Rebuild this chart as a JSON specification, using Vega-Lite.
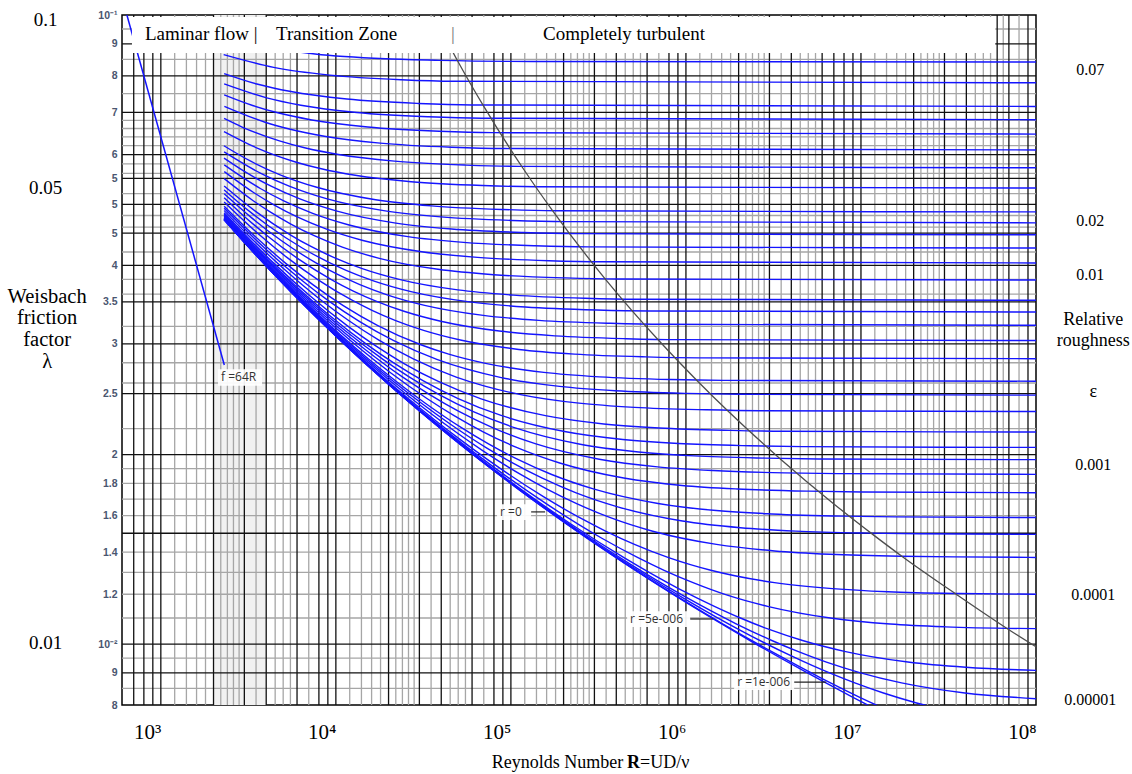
{
  "$schema": "https://vega.github.io/schema/vega-lite/v6.json",
  "width": 914,
  "height": 690,
  "autosize": "none",
  "padding": {"left": 122, "top": 15, "right": 96, "bottom": 69},
  "background": "white",
  "config": {"view": {"stroke": "black", "strokeWidth": 1.5}},
  "datasets": {
    "vgrid": [
      {"R": 700, "k": "b"}, {"R": 800, "k": "b"}, {"R": 900, "k": "b"},
      {"R": 1000, "k": "b"}, {"R": 1200, "k": "g"}, {"R": 1400, "k": "g"}, {"R": 1600, "k": "g"}, {"R": 1800, "k": "g"}, {"R": 2000, "k": "b"}, {"R": 2200, "k": "g"}, {"R": 2400, "k": "g"}, {"R": 2600, "k": "g"}, {"R": 2800, "k": "g"}, {"R": 3000, "k": "b"}, {"R": 3500, "k": "g"}, {"R": 4000, "k": "b"}, {"R": 4500, "k": "g"}, {"R": 5000, "k": "g"}, {"R": 5500, "k": "g"}, {"R": 6000, "k": "b"}, {"R": 7000, "k": "g"}, {"R": 8000, "k": "b"}, {"R": 9000, "k": "b"},
      {"R": 10000, "k": "b"}, {"R": 12000, "k": "g"}, {"R": 14000, "k": "g"}, {"R": 16000, "k": "g"}, {"R": 18000, "k": "g"}, {"R": 20000, "k": "b"}, {"R": 22000, "k": "g"}, {"R": 24000, "k": "g"}, {"R": 26000, "k": "g"}, {"R": 28000, "k": "g"}, {"R": 30000, "k": "b"}, {"R": 35000, "k": "g"}, {"R": 40000, "k": "b"}, {"R": 45000, "k": "g"}, {"R": 50000, "k": "g"}, {"R": 55000, "k": "g"}, {"R": 60000, "k": "b"}, {"R": 70000, "k": "g"}, {"R": 80000, "k": "b"}, {"R": 90000, "k": "b"},
      {"R": 100000, "k": "b"}, {"R": 120000, "k": "g"}, {"R": 140000, "k": "g"}, {"R": 160000, "k": "g"}, {"R": 180000, "k": "g"}, {"R": 200000, "k": "b"}, {"R": 220000, "k": "g"}, {"R": 240000, "k": "g"}, {"R": 260000, "k": "g"}, {"R": 280000, "k": "g"}, {"R": 300000, "k": "b"}, {"R": 350000, "k": "g"}, {"R": 400000, "k": "b"}, {"R": 450000, "k": "g"}, {"R": 500000, "k": "g"}, {"R": 550000, "k": "g"}, {"R": 600000, "k": "b"}, {"R": 700000, "k": "g"}, {"R": 800000, "k": "b"}, {"R": 900000, "k": "b"},
      {"R": 1000000, "k": "b"}, {"R": 1200000, "k": "g"}, {"R": 1400000, "k": "g"}, {"R": 1600000, "k": "g"}, {"R": 1800000, "k": "g"}, {"R": 2000000, "k": "b"}, {"R": 2200000, "k": "g"}, {"R": 2400000, "k": "g"}, {"R": 2600000, "k": "g"}, {"R": 2800000, "k": "g"}, {"R": 3000000, "k": "b"}, {"R": 3500000, "k": "g"}, {"R": 4000000, "k": "b"}, {"R": 4500000, "k": "g"}, {"R": 5000000, "k": "g"}, {"R": 5500000, "k": "g"}, {"R": 6000000, "k": "b"}, {"R": 7000000, "k": "b"}, {"R": 8000000, "k": "b"}, {"R": 9000000, "k": "b"},
      {"R": 10000000, "k": "b"}, {"R": 12000000, "k": "g"}, {"R": 14000000, "k": "g"}, {"R": 16000000, "k": "g"}, {"R": 18000000, "k": "g"}, {"R": 20000000, "k": "b"}, {"R": 22000000, "k": "g"}, {"R": 24000000, "k": "g"}, {"R": 26000000, "k": "g"}, {"R": 28000000, "k": "g"}, {"R": 30000000, "k": "b"}, {"R": 35000000, "k": "g"}, {"R": 40000000, "k": "b"}, {"R": 45000000, "k": "g"}, {"R": 50000000, "k": "g"}, {"R": 55000000, "k": "g"}, {"R": 60000000, "k": "b"}, {"R": 65000000, "k": "g"}, {"R": 70000000, "k": "b"}, {"R": 80000000, "k": "g"}, {"R": 90000000, "k": "b"}
    ],
    "hgrid": [
      {"f": 0.095, "k": "g"}, {"f": 0.09, "k": "b"}, {"f": 0.085, "k": "g"}, {"f": 0.08, "k": "b"}, {"f": 0.075, "k": "g"}, {"f": 0.07, "k": "b"}, {"f": 0.068, "k": "g"}, {"f": 0.066, "k": "g"}, {"f": 0.064, "k": "g"}, {"f": 0.062, "k": "g"}, {"f": 0.06, "k": "b"}, {"f": 0.058, "k": "g"}, {"f": 0.056, "k": "g"}, {"f": 0.055, "k": "b"}, {"f": 0.052, "k": "g"}, {"f": 0.05, "k": "b"}, {"f": 0.048, "k": "g"}, {"f": 0.046, "k": "g"}, {"f": 0.045, "k": "b"}, {"f": 0.042, "k": "g"}, {"f": 0.04, "k": "b"}, {"f": 0.038, "k": "g"}, {"f": 0.036, "k": "g"}, {"f": 0.035, "k": "b"}, {"f": 0.032, "k": "g"}, {"f": 0.03, "k": "b"}, {"f": 0.028, "k": "g"}, {"f": 0.026, "k": "g"}, {"f": 0.025, "k": "b"}, {"f": 0.022, "k": "g"}, {"f": 0.02, "k": "b"}, {"f": 0.019, "k": "g"}, {"f": 0.018, "k": "g"}, {"f": 0.017, "k": "g"}, {"f": 0.016, "k": "g"}, {"f": 0.015, "k": "b"}, {"f": 0.014, "k": "g"}, {"f": 0.013, "k": "g"}, {"f": 0.012, "k": "g"}, {"f": 0.011, "k": "g"}, {"f": 0.01, "k": "b"}, {"f": 0.0095, "k": "g"}, {"f": 0.009, "k": "b"}, {"f": 0.0085, "k": "g"}
    ],
    "curves": [
      {"e": "0.07", "R": 2320, "f": 0.09205}, {"e": "0.07", "R": 3638, "f": 0.08932}, {"e": "0.07", "R": 7604, "f": 0.08671}, {"e": "0.07", "R": 19516, "f": 0.0852}, {"e": "0.07", "R": 39368, "f": 0.0847}, {"e": "0.07", "R": 132050, "f": 0.08436}, {"e": "0.07", "R": 100000000, "f": 0.0842},
      {"e": "0.06", "R": 2285, "f": 0.0865}, {"e": "0.06", "R": 4414, "f": 0.08257}, {"e": "0.06", "R": 9222, "f": 0.08025}, {"e": "0.06", "R": 23660, "f": 0.0789}, {"e": "0.06", "R": 47720, "f": 0.07846}, {"e": "0.06", "R": 100000000, "f": 0.07802},
      {"e": "0.05", "R": 2300, "f": 0.0807}, {"e": "0.05", "R": 3536, "f": 0.07768}, {"e": "0.05", "R": 5538, "f": 0.07556}, {"e": "0.05", "R": 11561, "f": 0.07352}, {"e": "0.05", "R": 29650, "f": 0.07234}, {"e": "0.05", "R": 59800, "f": 0.07195}, {"e": "0.05", "R": 100000000, "f": 0.07155},
      {"e": "0.045", "R": 2300, "f": 0.0777}, {"e": "0.045", "R": 4029, "f": 0.07384}, {"e": "0.045", "R": 6309, "f": 0.07188}, {"e": "0.045", "R": 13167, "f": 0.06999}, {"e": "0.045", "R": 33760, "f": 0.06889}, {"e": "0.045", "R": 68080, "f": 0.06853}, {"e": "0.045", "R": 100000000, "f": 0.06817},
      {"e": "0.04", "R": 2300, "f": 0.07465}, {"e": "0.04", "R": 3346, "f": 0.0718}, {"e": "0.04", "R": 4658, "f": 0.06991}, {"e": "0.04", "R": 7291, "f": 0.0681}, {"e": "0.04", "R": 15212, "f": 0.06636}, {"e": "0.04", "R": 39000, "f": 0.06534}, {"e": "0.04", "R": 78640, "f": 0.06501}, {"e": "0.04", "R": 100000000, "f": 0.06467},
      {"e": "0.035", "R": 2306, "f": 0.07158}, {"e": "0.035", "R": 3943, "f": 0.06753}, {"e": "0.035", "R": 5487, "f": 0.06582}, {"e": "0.035", "R": 8585, "f": 0.06416}, {"e": "0.035", "R": 17905, "f": 0.06256}, {"e": "0.035", "R": 45890, "f": 0.06163}, {"e": "0.035", "R": 92530, "f": 0.06133}, {"e": "0.035", "R": 100000000, "f": 0.06102},
      {"e": "0.03", "R": 2299, "f": 0.06847}, {"e": "0.03", "R": 2913, "f": 0.06636}, {"e": "0.03", "R": 4761, "f": 0.06307}, {"e": "0.03", "R": 6622, "f": 0.06151}, {"e": "0.03", "R": 10357, "f": 0.06001}, {"e": "0.03", "R": 21590, "f": 0.05857}, {"e": "0.03", "R": 55320, "f": 0.05773}, {"e": "0.03", "R": 111530, "f": 0.05745}, {"e": "0.03", "R": 100000000, "f": 0.05717},
      {"e": "0.025", "R": 2295, "f": 0.06527}, {"e": "0.025", "R": 3638, "f": 0.06125}, {"e": "0.025", "R": 5940, "f": 0.05833}, {"e": "0.025", "R": 8258, "f": 0.05695}, {"e": "0.025", "R": 12910, "f": 0.05561}, {"e": "0.025", "R": 26900, "f": 0.05432}, {"e": "0.025", "R": 68910, "f": 0.05357}, {"e": "0.025", "R": 138930, "f": 0.05333}, {"e": "0.025", "R": 100000000, "f": 0.05308},
      {"e": "0.02", "R": 2292, "f": 0.06197}, {"e": "0.02", "R": 3282, "f": 0.0585}, {"e": "0.02", "R": 4766, "f": 0.05577}, {"e": "0.02", "R": 7773, "f": 0.05323}, {"e": "0.02", "R": 16875, "f": 0.05086}, {"e": "0.02", "R": 35140, "f": 0.04973}, {"e": "0.02", "R": 90000, "f": 0.04907}, {"e": "0.02", "R": 181400, "f": 0.04885}, {"e": "0.02", "R": 100000000, "f": 0.04864},
      {"e": "0.018", "R": 2299, "f": 0.06058}, {"e": "0.018", "R": 3728, "f": 0.056}, {"e": "0.018", "R": 5410, "f": 0.05344}, {"e": "0.018", "R": 8819, "f": 0.05105}, {"e": "0.018", "R": 19137, "f": 0.04882}, {"e": "0.018", "R": 39845, "f": 0.04776}, {"e": "0.018", "R": 102040, "f": 0.04714}, {"e": "0.018", "R": 205650, "f": 0.04694}, {"e": "0.018", "R": 100000000, "f": 0.04673},
      {"e": "0.016", "R": 2296, "f": 0.05922}, {"e": "0.016", "R": 3153, "f": 0.05594}, {"e": "0.016", "R": 4295, "f": 0.05338}, {"e": "0.016", "R": 6230, "f": 0.051}, {"e": "0.016", "R": 10151, "f": 0.04877}, {"e": "0.016", "R": 22016, "f": 0.04669}, {"e": "0.016", "R": 45830, "f": 0.04569}, {"e": "0.016", "R": 117350, "f": 0.04511}, {"e": "0.016", "R": 236500, "f": 0.04492}, {"e": "0.016", "R": 100000000, "f": 0.04473},
      {"e": "0.014", "R": 2302, "f": 0.05779}, {"e": "0.014", "R": 3703, "f": 0.05299}, {"e": "0.014", "R": 5040, "f": 0.05063}, {"e": "0.014", "R": 7307, "f": 0.04843}, {"e": "0.014", "R": 11898, "f": 0.04637}, {"e": "0.014", "R": 25790, "f": 0.04443}, {"e": "0.014", "R": 53670, "f": 0.04351}, {"e": "0.014", "R": 137400, "f": 0.04297}, {"e": "0.014", "R": 276900, "f": 0.04279}, {"e": "0.014", "R": 100000000, "f": 0.04262},
      {"e": "0.012", "R": 2303, "f": 0.05637}, {"e": "0.012", "R": 3404, "f": 0.05217}, {"e": "0.012", "R": 4453, "f": 0.04987}, {"e": "0.012", "R": 6058, "f": 0.04771}, {"e": "0.012", "R": 8776, "f": 0.0457}, {"e": "0.012", "R": 14281, "f": 0.0438}, {"e": "0.012", "R": 30940, "f": 0.04203}, {"e": "0.012", "R": 64370, "f": 0.04118}, {"e": "0.012", "R": 164750, "f": 0.04068}, {"e": "0.012", "R": 332000, "f": 0.04052}, {"e": "0.012", "R": 100000000, "f": 0.04035},
      {"e": "0.01", "R": 2302, "f": 0.05493}, {"e": "0.01", "R": 3326, "f": 0.05081}, {"e": "0.01", "R": 4233, "f": 0.04859}, {"e": "0.01", "R": 5533, "f": 0.04652}, {"e": "0.01", "R": 7521, "f": 0.04458}, {"e": "0.01", "R": 10888, "f": 0.04275}, {"e": "0.01", "R": 17705, "f": 0.04104}, {"e": "0.01", "R": 38330, "f": 0.03942}, {"e": "0.01", "R": 79730, "f": 0.03865}, {"e": "0.01", "R": 204000, "f": 0.0382}, {"e": "0.01", "R": 411100, "f": 0.03805}, {"e": "0.01", "R": 100000000, "f": 0.0379},
      {"e": "0.008", "R": 2300, "f": 0.05347}, {"e": "0.008", "R": 3478, "f": 0.04873}, {"e": "0.008", "R": 5517, "f": 0.04469}, {"e": "0.008", "R": 7205, "f": 0.04286}, {"e": "0.008", "R": 9785, "f": 0.04114}, {"e": "0.008", "R": 14154, "f": 0.03952}, {"e": "0.008", "R": 23000, "f": 0.038}, {"e": "0.008", "R": 49760, "f": 0.03656}, {"e": "0.008", "R": 103450, "f": 0.03587}, {"e": "0.008", "R": 264700, "f": 0.03546}, {"e": "0.008", "R": 533300, "f": 0.03533}, {"e": "0.008", "R": 100000000, "f": 0.0352},
      {"e": "0.007", "R": 2300, "f": 0.05272}, {"e": "0.007", "R": 2728, "f": 0.05058}, {"e": "0.007", "R": 4077, "f": 0.04632}, {"e": "0.007", "R": 6460, "f": 0.04258}, {"e": "0.007", "R": 11446, "f": 0.03927}, {"e": "0.007", "R": 16550, "f": 0.03776}, {"e": "0.007", "R": 26881, "f": 0.03633}, {"e": "0.007", "R": 58130, "f": 0.03499}, {"e": "0.007", "R": 120830, "f": 0.03434}, {"e": "0.007", "R": 309100, "f": 0.03396}, {"e": "0.007", "R": 622800, "f": 0.03384}, {"e": "0.007", "R": 100000000, "f": 0.03372},
      {"e": "0.006", "R": 2300, "f": 0.05197}, {"e": "0.006", "R": 3278, "f": 0.04767}, {"e": "0.006", "R": 4894, "f": 0.04377}, {"e": "0.006", "R": 7745, "f": 0.04032}, {"e": "0.006", "R": 10103, "f": 0.03875}, {"e": "0.006", "R": 13708, "f": 0.03727}, {"e": "0.006", "R": 19810, "f": 0.03587}, {"e": "0.006", "R": 32160, "f": 0.03455}, {"e": "0.006", "R": 69510, "f": 0.0333}, {"e": "0.006", "R": 144460, "f": 0.0327}, {"e": "0.006", "R": 369500, "f": 0.03235}, {"e": "0.006", "R": 744500, "f": 0.03223}, {"e": "0.006", "R": 100000000, "f": 0.03212},
      {"e": "0.005", "R": 2300, "f": 0.05121}, {"e": "0.005", "R": 2828, "f": 0.04855}, {"e": "0.005", "R": 4070, "f": 0.04454}, {"e": "0.005", "R": 6067, "f": 0.041}, {"e": "0.005", "R": 9589, "f": 0.03787}, {"e": "0.005", "R": 12501, "f": 0.03644}, {"e": "0.005", "R": 16952, "f": 0.03509}, {"e": "0.005", "R": 24485, "f": 0.03381}, {"e": "0.005", "R": 39730, "f": 0.0326}, {"e": "0.005", "R": 85820, "f": 0.03145}, {"e": "0.005", "R": 178320, "f": 0.0309}, {"e": "0.005", "R": 456000, "f": 0.03058}, {"e": "0.005", "R": 918800, "f": 0.03047}, {"e": "0.005", "R": 100000000, "f": 0.03037},
      {"e": "0.004", "R": 2300, "f": 0.05044}, {"e": "0.004", "R": 3686, "f": 0.04465}, {"e": "0.004", "R": 5296, "f": 0.0411}, {"e": "0.004", "R": 7881, "f": 0.03796}, {"e": "0.004", "R": 12439, "f": 0.03517}, {"e": "0.004", "R": 16205, "f": 0.03389}, {"e": "0.004", "R": 21960, "f": 0.03267}, {"e": "0.004", "R": 31700, "f": 0.03152}, {"e": "0.004", "R": 51400, "f": 0.03043}, {"e": "0.004", "R": 110970, "f": 0.0294}, {"e": "0.004", "R": 230500, "f": 0.0289}, {"e": "0.004", "R": 589400, "f": 0.02861}, {"e": "0.004", "R": 1187000, "f": 0.02851}, {"e": "0.004", "R": 100000000, "f": 0.02842},
      {"e": "0.003", "R": 2300, "f": 0.04966}, {"e": "0.003", "R": 3135, "f": 0.04561}, {"e": "0.003", "R": 5174, "f": 0.04029}, {"e": "0.003", "R": 7419, "f": 0.03724}, {"e": "0.003", "R": 11020, "f": 0.03452}, {"e": "0.003", "R": 17363, "f": 0.03209}, {"e": "0.003", "R": 30605, "f": 0.02991}, {"e": "0.003", "R": 44140, "f": 0.0289}, {"e": "0.003", "R": 71520, "f": 0.02794}, {"e": "0.003", "R": 154300, "f": 0.02703}, {"e": "0.003", "R": 320400, "f": 0.02659}, {"e": "0.003", "R": 819100, "f": 0.02633}, {"e": "0.003", "R": 1650000, "f": 0.02625}, {"e": "0.003", "R": 100000000, "f": 0.02617},
      {"e": "0.0025", "R": 2300, "f": 0.04928}, {"e": "0.0025", "R": 3889, "f": 0.04268}, {"e": "0.0025", "R": 6406, "f": 0.03784}, {"e": "0.0025", "R": 9175, "f": 0.03506}, {"e": "0.0025", "R": 13613, "f": 0.03258}, {"e": "0.0025", "R": 21427, "f": 0.03035}, {"e": "0.0025", "R": 37730, "f": 0.02834}, {"e": "0.0025", "R": 88096, "f": 0.02652}, {"e": "0.0025", "R": 189990, "f": 0.02568}, {"e": "0.0025", "R": 394400, "f": 0.02527}, {"e": "0.0025", "R": 1008200, "f": 0.02503}, {"e": "0.0025", "R": 2030900, "f": 0.02495}, {"e": "0.0025", "R": 100000000, "f": 0.02487},
      {"e": "0.002", "R": 2300, "f": 0.04888}, {"e": "0.002", "R": 3166, "f": 0.04462}, {"e": "0.002", "R": 5056, "f": 0.03946}, {"e": "0.002", "R": 8309, "f": 0.03514}, {"e": "0.002", "R": 11885, "f": 0.03265}, {"e": "0.002", "R": 17612, "f": 0.03041}, {"e": "0.002", "R": 27690, "f": 0.0284}, {"e": "0.002", "R": 48700, "f": 0.02657}, {"e": "0.002", "R": 70170, "f": 0.02573}, {"e": "0.002", "R": 113600, "f": 0.02492}, {"e": "0.002", "R": 244900, "f": 0.02415}, {"e": "0.002", "R": 508200, "f": 0.02378}, {"e": "0.002", "R": 1299000, "f": 0.02357}, {"e": "0.002", "R": 2616000, "f": 0.02349}, {"e": "0.002", "R": 100000000, "f": 0.02342},
      {"e": "0.0015", "R": 2300, "f": 0.04848}, {"e": "0.0015", "R": 3291, "f": 0.04369}, {"e": "0.0015", "R": 4444, "f": 0.04025}, {"e": "0.0015", "R": 7076, "f": 0.03581}, {"e": "0.0015", "R": 11598, "f": 0.03207}, {"e": "0.0015", "R": 16562, "f": 0.02989}, {"e": "0.0015", "R": 24506, "f": 0.02792}, {"e": "0.0015", "R": 38471, "f": 0.02615}, {"e": "0.0015", "R": 67580, "f": 0.02454}, {"e": "0.0015", "R": 157440, "f": 0.02307}, {"e": "0.0015", "R": 339200, "f": 0.02238}, {"e": "0.0015", "R": 703700, "f": 0.02205}, {"e": "0.0015", "R": 1798000, "f": 0.02186}, {"e": "0.0015", "R": 3622000, "f": 0.02179}, {"e": "0.0015", "R": 100000000, "f": 0.02173},
      {"e": "0.0012", "R": 2300, "f": 0.04825}, {"e": "0.0012", "R": 3191, "f": 0.0438}, {"e": "0.0012", "R": 4281, "f": 0.04035}, {"e": "0.0012", "R": 5772, "f": 0.0373}, {"e": "0.0012", "R": 9170, "f": 0.03332}, {"e": "0.0012", "R": 15000, "f": 0.02995}, {"e": "0.0012", "R": 21397, "f": 0.02798}, {"e": "0.0012", "R": 31625, "f": 0.0262}, {"e": "0.0012", "R": 49597, "f": 0.02458}, {"e": "0.0012", "R": 87040, "f": 0.02311}, {"e": "0.0012", "R": 202590, "f": 0.02177}, {"e": "0.0012", "R": 436250, "f": 0.02114}, {"e": "0.0012", "R": 904950, "f": 0.02083}, {"e": "0.0012", "R": 2312100, "f": 0.02066}, {"e": "0.0012", "R": 4657000, "f": 0.0206}, {"e": "0.0012", "R": 100000000, "f": 0.02054},
      {"e": "0.001", "R": 2300, "f": 0.04809}, {"e": "0.001", "R": 2566, "f": 0.04652}, {"e": "0.001", "R": 3679, "f": 0.04188}, {"e": "0.001", "R": 5300, "f": 0.0379}, {"e": "0.001", "R": 11322, "f": 0.03148}, {"e": "0.001", "R": 18494, "f": 0.02838}, {"e": "0.001", "R": 26356, "f": 0.02656}, {"e": "0.001", "R": 38922, "f": 0.02491}, {"e": "0.001", "R": 60994, "f": 0.02341}, {"e": "0.001", "R": 106960, "f": 0.02204}, {"e": "0.001", "R": 248790, "f": 0.02078}, {"e": "0.001", "R": 535550, "f": 0.0202}, {"e": "0.001", "R": 1110700, "f": 0.01991}, {"e": "0.001", "R": 2838000, "f": 0.01975}, {"e": "0.001", "R": 5715000, "f": 0.01969}, {"e": "0.001", "R": 100000000, "f": 0.01964},
      {"e": "0.0008", "R": 2300, "f": 0.04792}, {"e": "0.0008", "R": 3341, "f": 0.04286}, {"e": "0.0008", "R": 4781, "f": 0.03875}, {"e": "0.0008", "R": 6875, "f": 0.0352}, {"e": "0.0008", "R": 14639, "f": 0.02942}, {"e": "0.0008", "R": 23872, "f": 0.02661}, {"e": "0.0008", "R": 33985, "f": 0.02496}, {"e": "0.0008", "R": 50140, "f": 0.02345}, {"e": "0.0008", "R": 78500, "f": 0.02208}, {"e": "0.0008", "R": 137550, "f": 0.02082}, {"e": "0.0008", "R": 319670, "f": 0.01967}, {"e": "0.0008", "R": 687860, "f": 0.01913}, {"e": "0.0008", "R": 1426400, "f": 0.01887}, {"e": "0.0008", "R": 3644000, "f": 0.01871}, {"e": "0.0008", "R": 7338000, "f": 0.01866}, {"e": "0.0008", "R": 100000000, "f": 0.01861},
      {"e": "0.0006", "R": 2300, "f": 0.04775}, {"e": "0.0006", "R": 3291, "f": 0.04286}, {"e": "0.0006", "R": 4685, "f": 0.03875}, {"e": "0.0006", "R": 6688, "f": 0.0352}, {"e": "0.0006", "R": 9597, "f": 0.03212}, {"e": "0.0006", "R": 20355, "f": 0.02705}, {"e": "0.0006", "R": 33127, "f": 0.02457}, {"e": "0.0006", "R": 47102, "f": 0.0231}, {"e": "0.0006", "R": 69413, "f": 0.02175}, {"e": "0.0006", "R": 108560, "f": 0.02052}, {"e": "0.0006", "R": 190010, "f": 0.0194}, {"e": "0.0006", "R": 441170, "f": 0.01836}, {"e": "0.0006", "R": 948860, "f": 0.01787}, {"e": "0.0006", "R": 1967000, "f": 0.01764}, {"e": "0.0006", "R": 5024000, "f": 0.0175}, {"e": "0.0006", "R": 10118000, "f": 0.01745}, {"e": "0.0006", "R": 100000000, "f": 0.0174},
      {"e": "0.0004", "R": 2300, "f": 0.04758}, {"e": "0.0004", "R": 3740, "f": 0.0411}, {"e": "0.0004", "R": 5297, "f": 0.03724}, {"e": "0.0004", "R": 7515, "f": 0.03389}, {"e": "0.0004", "R": 10695, "f": 0.03097}, {"e": "0.0004", "R": 15303, "f": 0.02842}, {"e": "0.0004", "R": 32300, "f": 0.02417}, {"e": "0.0004", "R": 52433, "f": 0.02206}, {"e": "0.0004", "R": 74434, "f": 0.02081}, {"e": "0.0004", "R": 109526, "f": 0.01966}, {"e": "0.0004", "R": 171045, "f": 0.0186}, {"e": "0.0004", "R": 298990, "f": 0.01763}, {"e": "0.0004", "R": 693320, "f": 0.01673}, {"e": "0.0004", "R": 1490300, "f": 0.0163}, {"e": "0.0004", "R": 3088800, "f": 0.0161}, {"e": "0.0004", "R": 7887000, "f": 0.01597}, {"e": "0.0004", "R": 15880000, "f": 0.01593}, {"e": "0.0004", "R": 100000000, "f": 0.01589},
      {"e": "0.0003", "R": 2300, "f": 0.04752}, {"e": "0.0003", "R": 2624, "f": 0.04561}, {"e": "0.0003", "R": 3709, "f": 0.0411}, {"e": "0.0003", "R": 5239, "f": 0.03724}, {"e": "0.0003", "R": 7403, "f": 0.03389}, {"e": "0.0003", "R": 10481, "f": 0.03097}, {"e": "0.0003", "R": 14888, "f": 0.02842}, {"e": "0.0003", "R": 21265, "f": 0.02617}, {"e": "0.0003", "R": 44742, "f": 0.0224}, {"e": "0.0003", "R": 72508, "f": 0.02051}, {"e": "0.0003", "R": 102830, "f": 0.01939}, {"e": "0.0003", "R": 151160, "f": 0.01835}, {"e": "0.0003", "R": 235840, "f": 0.01739}, {"e": "0.0003", "R": 411890, "f": 0.01651}, {"e": "0.0003", "R": 954340, "f": 0.01569}, {"e": "0.0003", "R": 2050500, "f": 0.01531}, {"e": "0.0003", "R": 4249000, "f": 0.01512}, {"e": "0.0003", "R": 10850000, "f": 0.01501}, {"e": "0.0003", "R": 21850000, "f": 0.01497}, {"e": "0.0003", "R": 100000000, "f": 0.01494},
      {"e": "0.0002", "R": 2300, "f": 0.04744}, {"e": "0.0002", "R": 3003, "f": 0.04369}, {"e": "0.0002", "R": 4232, "f": 0.03946}, {"e": "0.0002", "R": 5960, "f": 0.03581}, {"e": "0.0002", "R": 8392, "f": 0.03265}, {"e": "0.0002", "R": 11825, "f": 0.02989}, {"e": "0.0002", "R": 16696, "f": 0.02746}, {"e": "0.0002", "R": 23657, "f": 0.02532}, {"e": "0.0002", "R": 33713, "f": 0.02342}, {"e": "0.0002", "R": 70647, "f": 0.02021}, {"e": "0.0002", "R": 114245, "f": 0.01859}, {"e": "0.0002", "R": 161800, "f": 0.01762}, {"e": "0.0002", "R": 237550, "f": 0.01672}, {"e": "0.0002", "R": 370180, "f": 0.01588}, {"e": "0.0002", "R": 645770, "f": 0.01511}, {"e": "0.0002", "R": 1494700, "f": 0.0144}, {"e": "0.0002", "R": 3209700, "f": 0.01406}, {"e": "0.0002", "R": 6649000, "f": 0.01389}, {"e": "0.0002", "R": 16975000, "f": 0.01379}, {"e": "0.0002", "R": 34180000, "f": 0.01376}, {"e": "0.0002", "R": 100000000, "f": 0.01373},
      {"e": "0.0001", "R": 2300, "f": 0.04736}, {"e": "0.0001", "R": 3429, "f": 0.04188}, {"e": "0.0001", "R": 4818, "f": 0.0379}, {"e": "0.0001", "R": 9477, "f": 0.03148}, {"e": "0.0001", "R": 13278, "f": 0.02886}, {"e": "0.0001", "R": 18610, "f": 0.02656}, {"e": "0.0001", "R": 26112, "f": 0.02452}, {"e": "0.0001", "R": 36724, "f": 0.02271}, {"e": "0.0001", "R": 51848, "f": 0.02109}, {"e": "0.0001", "R": 73640, "f": 0.01964}, {"e": "0.0001", "R": 153390, "f": 0.01715}, {"e": "0.0001", "R": 247250, "f": 0.01588}, {"e": "0.0001", "R": 349460, "f": 0.01511}, {"e": "0.0001", "R": 512080, "f": 0.01439}, {"e": "0.0001", "R": 796550, "f": 0.01372}, {"e": "0.0001", "R": 1387200, "f": 0.0131}, {"e": "0.0001", "R": 3205300, "f": 0.01252}, {"e": "0.0001", "R": 6877800, "f": 0.01225}, {"e": "0.0001", "R": 14242000, "f": 0.01211}, {"e": "0.0001", "R": 36350000, "f": 0.01203}, {"e": "0.0001", "R": 100000000, "f": 0.012},
      {"e": "5e-5", "R": 2300, "f": 0.04732}, {"e": "5e-5", "R": 2792, "f": 0.04454}, {"e": "5e-5", "R": 5502, "f": 0.03644}, {"e": "5e-5", "R": 10766, "f": 0.03037}, {"e": "5e-5", "R": 20978, "f": 0.02569}, {"e": "5e-5", "R": 40870, "f": 0.02202}, {"e": "5e-5", "R": 80107, "f": 0.01909}, {"e": "5e-5", "R": 159700, "f": 0.0167}, {"e": "5e-5", "R": 330950, "f": 0.01473}, {"e": "5e-5", "R": 531980, "f": 0.01372}, {"e": "5e-5", "R": 750590, "f": 0.0131}, {"e": "5e-5", "R": 1098100, "f": 0.01252}, {"e": "5e-5", "R": 1705400, "f": 0.01197}, {"e": "5e-5", "R": 2965400, "f": 0.01147}, {"e": "5e-5", "R": 6842000, "f": 0.01099}, {"e": "5e-5", "R": 14671000, "f": 0.01076}, {"e": "5e-5", "R": 30370000, "f": 0.01065}, {"e": "5e-5", "R": 100000000, "f": 0.01058},
      {"e": "2e-5", "R": 2300, "f": 0.0473}, {"e": "2e-5", "R": 2966, "f": 0.04369}, {"e": "2e-5", "R": 4164, "f": 0.03946}, {"e": "2e-5", "R": 8152, "f": 0.03265}, {"e": "2e-5", "R": 15846, "f": 0.02746}, {"e": "2e-5", "R": 30649, "f": 0.02342}, {"e": "2e-5", "R": 59138, "f": 0.02021}, {"e": "2e-5", "R": 114250, "f": 0.01762}, {"e": "2e-5", "R": 222290, "f": 0.01549}, {"e": "2e-5", "R": 440330, "f": 0.01373}, {"e": "2e-5", "R": 907350, "f": 0.01225}, {"e": "2e-5", "R": 1454000, "f": 0.01148}, {"e": "2e-5", "R": 2047500, "f": 0.011}, {"e": "2e-5", "R": 2989700, "f": 0.01055}, {"e": "2e-5", "R": 4635000, "f": 0.01013}, {"e": "2e-5", "R": 8046000, "f": 0.009737}, {"e": "2e-5", "R": 18533000, "f": 0.009363}, {"e": "2e-5", "R": 39708000, "f": 0.009185}, {"e": "2e-5", "R": 100000000, "f": 0.009082},
      {"e": "1e-5", "R": 2300, "f": 0.04728}, {"e": "1e-5", "R": 2423, "f": 0.04652}, {"e": "1e-5", "R": 4775, "f": 0.0379}, {"e": "1e-5", "R": 9325, "f": 0.03148}, {"e": "1e-5", "R": 18079, "f": 0.02656}, {"e": "1e-5", "R": 34855, "f": 0.02271}, {"e": "1e-5", "R": 66946, "f": 0.01964}, {"e": "1e-5", "R": 128400, "f": 0.01715}, {"e": "1e-5", "R": 246760, "f": 0.01511}, {"e": "1e-5", "R": 477910, "f": 0.01341}, {"e": "1e-5", "R": 942790, "f": 0.01198}, {"e": "1e-5", "R": 1935700, "f": 0.01077}, {"e": "1e-5", "R": 3095600, "f": 0.01013}, {"e": "1e-5", "R": 4353700, "f": 0.009733}, {"e": "1e-5", "R": 6349400, "f": 0.00936}, {"e": "1e-5", "R": 9831800, "f": 0.009008}, {"e": "1e-5", "R": 17048000, "f": 0.008675}, {"e": "1e-5", "R": 39226000, "f": 0.008361}, {"e": "1e-5", "R": 100000000, "f": 0.008187},
      {"e": "5e-6", "R": 2300, "f": 0.04728}, {"e": "5e-6", "R": 2784, "f": 0.04454}, {"e": "5e-6", "R": 5474, "f": 0.03644}, {"e": "5e-6", "R": 10669, "f": 0.03037}, {"e": "5e-6", "R": 20642, "f": 0.02569}, {"e": "5e-6", "R": 39703, "f": 0.02202}, {"e": "5e-6", "R": 76030, "f": 0.01909}, {"e": "5e-6", "R": 145180, "f": 0.0167}, {"e": "5e-6", "R": 277040, "f": 0.01473}, {"e": "5e-6", "R": 530010, "f": 0.0131}, {"e": "5e-6", "R": 1022420, "f": 0.01172}, {"e": "5e-6", "R": 2009750, "f": 0.01054}, {"e": "5e-6", "R": 4113100, "f": 0.00954}, {"e": "5e-6", "R": 6566000, "f": 0.009004}, {"e": "5e-6", "R": 9224100, "f": 0.008672}, {"e": "5e-6", "R": 13437800, "f": 0.008358}, {"e": "5e-6", "R": 20787000, "f": 0.00806}, {"e": "5e-6", "R": 36006000, "f": 0.007778},
      {"e": "1e-6", "R": 2300, "f": 0.04728}, {"e": "1e-6", "R": 2421, "f": 0.04652}, {"e": "1e-6", "R": 4771, "f": 0.0379}, {"e": "1e-6", "R": 9310, "f": 0.03148}, {"e": "1e-6", "R": 18027, "f": 0.02656}, {"e": "1e-6", "R": 34678, "f": 0.02271}, {"e": "1e-6", "R": 66343, "f": 0.01964}, {"e": "1e-6", "R": 126340, "f": 0.01715}, {"e": "1e-6", "R": 239710, "f": 0.01511}, {"e": "1e-6", "R": 453590, "f": 0.01341}, {"e": "1e-6", "R": 857080, "f": 0.01198}, {"e": "1e-6", "R": 1620300, "f": 0.01077}, {"e": "1e-6", "R": 3074100, "f": 0.009733}, {"e": "1e-6", "R": 5885800, "f": 0.008839}, {"e": "1e-6", "R": 11491600, "f": 0.008063}, {"e": "1e-6", "R": 23374000, "f": 0.007385},
      {"e": "0", "R": 2300, "f": 0.04728}, {"e": "0", "R": 3969, "f": 0.04}, {"e": "0", "R": 7763, "f": 0.03306}, {"e": "0", "R": 15060, "f": 0.02778}, {"e": "0", "R": 29013, "f": 0.02367}, {"e": "0", "R": 55562, "f": 0.02041}, {"e": "0", "R": 105860, "f": 0.01778}, {"e": "0", "R": 200800, "f": 0.015625}, {"e": "0", "R": 379390, "f": 0.01384}, {"e": "0", "R": 714360, "f": 0.012346}, {"e": "0", "R": 1340900, "f": 0.01108}, {"e": "0", "R": 2510000, "f": 0.01}, {"e": "0", "R": 4686600, "f": 0.00907}, {"e": "0", "R": 8731000, "f": 0.008264}, {"e": "0", "R": 16232000, "f": 0.007561}
    ],
    "laminar": [{"R": 640, "f": 0.1}, {"R": 2305, "f": 0.02777}],
    "bound": [
      {"R": 35000, "f": 0.1017}, {"R": 50000, "f": 0.0842}, {"R": 70000, "f": 0.07155}, {"R": 116700, "f": 0.05717}, {"R": 175000, "f": 0.04864}, {"R": 350000, "f": 0.0379}, {"R": 700000, "f": 0.03037}, {"R": 1166700, "f": 0.02617}, {"R": 1750000, "f": 0.02342}, {"R": 3500000, "f": 0.01964}, {"R": 7000000, "f": 0.0167}, {"R": 11667000, "f": 0.01494}, {"R": 17500000, "f": 0.01373}, {"R": 35000000, "f": 0.012}, {"R": 70000000, "f": 0.01054}, {"R": 100000000, "f": 0.0099}
    ],
    "texts": [
      {"g": "hdr", "t": "Laminar flow |", "R": 812, "f": 0.0933},
      {"g": "hdr", "t": "Transition Zone", "R": 4554, "f": 0.0933},
      {"g": "bar", "t": "|", "R": 45540, "f": 0.0933},
      {"g": "hdr", "t": "Completely turbulent", "R": 152700, "f": 0.0933},
      {"g": "num", "t": "0.1", "R": 220, "f": 0.0982},
      {"g": "num", "t": "0.05", "R": 220, "f": 0.0531},
      {"g": "num", "t": "0.01", "R": 220, "f": 0.01004},
      {"g": "side", "t": "Weisbach", "R": 224, "f": 0.0356},
      {"g": "side", "t": "friction", "R": 224, "f": 0.0330},
      {"g": "side", "t": "factor", "R": 224, "f": 0.03043},
      {"g": "side", "t": "λ", "R": 224, "f": 0.02808},
      {"g": "rside", "t": "Relative", "R": 212300000, "f": 0.03274},
      {"g": "rside", "t": "roughness", "R": 212300000, "f": 0.03031},
      {"g": "rside", "t": "ε", "R": 212300000, "f": 0.02515},
      {"g": "right", "t": "0.07", "R": 204000000, "f": 0.0818},
      {"g": "right", "t": "0.02", "R": 204000000, "f": 0.04705},
      {"g": "right", "t": "0.01", "R": 204000000, "f": 0.03861},
      {"g": "right", "t": "0.001", "R": 212300000, "f": 0.01926},
      {"g": "right", "t": "0.0001", "R": 212300000, "f": 0.01196},
      {"g": "right", "t": "0.00001", "R": 204000000, "f": 0.008147}
    ],
    "xtitle": [
      {"p": "a", "t": "Reynolds Number", "R": 437700, "f": 0.006468},
      {"p": "b", "t": "R", "R": 461000, "f": 0.006468},
      {"p": "c", "t": "=UD/ν", "R": 547000, "f": 0.006468}
    ],
    "hbox": [{"R": 684, "R2": 58500000, "f": 0.0993, "f2": 0.087}],
    "shade": [{"R": 2000, "R2": 4000}],
    "lbox": [
      {"t": "f  =64R", "Rt": 2207, "R": 2122, "R2": 3786, "f": 0.02735, "f2": 0.02575, "ft": 0.02658},
      {"t": "r =0", "Rt": 86700, "R": 83350, "R2": 130400, "f": 0.01668, "f2": 0.01575, "ft": 0.01622},
      {"t": "r =5e-006", "Rt": 479900, "R": 461300, "R2": 1056700, "f": 0.01128, "f2": 0.01064, "ft": 0.01096},
      {"t": "r =1e-006", "Rt": 1961000, "R": 1885000, "R2": 4151000, "f": 0.008955, "f2": 0.008455, "ft": 0.0087}
    ],
    "leaders": [
      {"R": 130400, "R2": 156800, "f": 0.01622},
      {"R": 1056700, "R2": 1430000, "f": 0.01096},
      {"R": 4151000, "R2": 6325000, "f": 0.0087}
    ]
  },
  "layer": [
    {
      "data": {"name": "shade"},
      "mark": {"type": "rect", "color": "#f1f1f1"},
      "encoding": {
        "x": {"field": "R", "type": "quantitative", "scale": {"type": "log", "domain": [600, 100000000], "nice": false}},
        "x2": {"field": "R2"},
        "y": {"datum": 0.1, "type": "quantitative", "scale": {"type": "log", "domain": [0.008, 0.1], "nice": false}},
        "y2": {"datum": 0.008}
      }
    },
    {
      "data": {"name": "vgrid"},
      "transform": [{"filter": "datum.k == 'g'"}],
      "mark": {"type": "rule", "color": "#a6a6a6", "strokeWidth": 1.3},
      "encoding": {"x": {"field": "R", "type": "quantitative", "scale": {"type": "log", "domain": [600, 100000000], "nice": false},
        "axis": {"values": [1000, 10000, 100000, 1000000, 10000000, 100000000], "labelExpr": "datum.value == 1000 ? '10³' : datum.value == 10000 ? '10⁴' : datum.value == 100000 ? '10⁵' : datum.value == 1000000 ? '10⁶' : datum.value == 10000000 ? '10⁷' : '10⁸'", "labelFont": "Liberation Serif", "labelFontSize": 21, "labelColor": "black", "labelAlign": "right", "labelPadding": 16, "ticks": false, "domain": false, "grid": false, "title": null, "labelFlush": false, "labelOverlap": false}}}
    },
    {
      "data": {"name": "hgrid"},
      "transform": [{"filter": "datum.k == 'g'"}],
      "mark": {"type": "rule", "color": "#a6a6a6", "strokeWidth": 1.3},
      "encoding": {"y": {"field": "f", "type": "quantitative", "scale": {"type": "log", "domain": [0.008, 0.1], "nice": false},
        "axis": {"values": [0.1, 0.09, 0.08, 0.07, 0.06, 0.055, 0.05, 0.045, 0.04, 0.035, 0.03, 0.025, 0.02, 0.018, 0.016, 0.014, 0.012, 0.01, 0.009, 0.008], "labelExpr": "datum.value == 0.1 ? '10⁻¹' : datum.value == 0.01 ? '10⁻²' : (datum.value == 0.055 || datum.value == 0.045) ? '5' : datum.value < 0.0099 ? format(datum.value * 1000, '.2~f') : format(datum.value * 100, '.2~f')", "labelFont": "Liberation Sans", "labelFontSize": 10.5, "labelFontWeight": "bold", "labelColor": "#4a5670", "labelPadding": 5, "ticks": false, "domain": false, "grid": false, "title": null, "labelFlush": false, "labelOverlap": false}}}
    },
    {
      "data": {"name": "vgrid"},
      "transform": [{"filter": "datum.k == 'b'"}],
      "mark": {"type": "rule", "color": "#111111", "strokeWidth": 1.3},
      "encoding": {"x": {"field": "R", "type": "quantitative", "scale": {"type": "log", "domain": [600, 100000000], "nice": false}}}
    },
    {
      "data": {"name": "hgrid"},
      "transform": [{"filter": "datum.k == 'b'"}],
      "mark": {"type": "rule", "color": "#111111", "strokeWidth": 1.3},
      "encoding": {"y": {"field": "f", "type": "quantitative", "scale": {"type": "log", "domain": [0.008, 0.1], "nice": false}}}
    },
    {
      "data": {"name": "curves"},
      "mark": {"type": "line", "color": "#1414ff", "strokeWidth": 1.4, "interpolate": "monotone", "clip": true},
      "encoding": {
        "x": {"field": "R", "type": "quantitative", "scale": {"type": "log", "domain": [600, 100000000], "nice": false}},
        "y": {"field": "f", "type": "quantitative", "scale": {"type": "log", "domain": [0.008, 0.1], "nice": false}},
        "detail": {"field": "e"}
      }
    },
    {
      "data": {"name": "laminar"},
      "mark": {"type": "line", "color": "#1414ff", "strokeWidth": 1.5, "clip": true},
      "encoding": {
        "x": {"field": "R", "type": "quantitative", "scale": {"type": "log", "domain": [600, 100000000], "nice": false}},
        "y": {"field": "f", "type": "quantitative", "scale": {"type": "log", "domain": [0.008, 0.1], "nice": false}}
      }
    },
    {
      "data": {"name": "bound"},
      "mark": {"type": "line", "color": "#4d4d4d", "strokeWidth": 1.3, "interpolate": "monotone", "clip": true},
      "encoding": {
        "x": {"field": "R", "type": "quantitative", "scale": {"type": "log", "domain": [600, 100000000], "nice": false}},
        "y": {"field": "f", "type": "quantitative", "scale": {"type": "log", "domain": [0.008, 0.1], "nice": false}}
      }
    },
    {
      "data": {"name": "hbox"},
      "mark": {"type": "rect", "color": "white"},
      "encoding": {
        "x": {"field": "R", "type": "quantitative", "scale": {"type": "log", "domain": [600, 100000000], "nice": false}},
        "x2": {"field": "R2"},
        "y": {"field": "f", "type": "quantitative", "scale": {"type": "log", "domain": [0.008, 0.1], "nice": false}},
        "y2": {"field": "f2"}
      }
    },
    {
      "data": {"name": "leaders"},
      "mark": {"type": "rule", "color": "#222222", "strokeWidth": 1.2},
      "encoding": {
        "x": {"field": "R", "type": "quantitative", "scale": {"type": "log", "domain": [600, 100000000], "nice": false}},
        "x2": {"field": "R2"},
        "y": {"field": "f", "type": "quantitative", "scale": {"type": "log", "domain": [0.008, 0.1], "nice": false}}
      }
    },
    {
      "data": {"name": "lbox"},
      "mark": {"type": "rect", "color": "white", "opacity": 0.92},
      "encoding": {
        "x": {"field": "R", "type": "quantitative", "scale": {"type": "log", "domain": [600, 100000000], "nice": false}},
        "x2": {"field": "R2"},
        "y": {"field": "f", "type": "quantitative", "scale": {"type": "log", "domain": [0.008, 0.1], "nice": false}},
        "y2": {"field": "f2"}
      }
    },
    {
      "data": {"name": "lbox"},
      "mark": {"type": "text", "font": "Open Sans", "fontSize": 12, "color": "#333333", "align": "left", "baseline": "middle"},
      "encoding": {
        "x": {"field": "Rt", "type": "quantitative", "scale": {"type": "log", "domain": [600, 100000000], "nice": false}},
        "y": {"field": "ft", "type": "quantitative", "scale": {"type": "log", "domain": [0.008, 0.1], "nice": false}},
        "text": {"field": "t"}
      }
    },
    {
      "data": {"name": "texts"},
      "transform": [{"filter": "datum.g == 'hdr'"}],
      "mark": {"type": "text", "font": "Liberation Serif", "fontSize": 19, "color": "black", "align": "left", "baseline": "middle"},
      "encoding": {
        "x": {"field": "R", "type": "quantitative", "scale": {"type": "log", "domain": [600, 100000000], "nice": false}},
        "y": {"field": "f", "type": "quantitative", "scale": {"type": "log", "domain": [0.008, 0.1], "nice": false}},
        "text": {"field": "t"}
      }
    },
    {
      "data": {"name": "texts"},
      "transform": [{"filter": "datum.g == 'bar'"}],
      "mark": {"type": "text", "font": "Liberation Serif", "fontSize": 19, "color": "#777777", "align": "left", "baseline": "middle"},
      "encoding": {
        "x": {"field": "R", "type": "quantitative", "scale": {"type": "log", "domain": [600, 100000000], "nice": false}},
        "y": {"field": "f", "type": "quantitative", "scale": {"type": "log", "domain": [0.008, 0.1], "nice": false}},
        "text": {"field": "t"}
      }
    },
    {
      "data": {"name": "texts"},
      "transform": [{"filter": "datum.g == 'num'"}],
      "mark": {"type": "text", "font": "Liberation Serif", "fontSize": 19, "color": "black", "align": "center", "baseline": "middle"},
      "encoding": {
        "x": {"field": "R", "type": "quantitative", "scale": {"type": "log", "domain": [600, 100000000], "nice": false}},
        "y": {"field": "f", "type": "quantitative", "scale": {"type": "log", "domain": [0.008, 0.1], "nice": false}},
        "text": {"field": "t"}
      }
    },
    {
      "data": {"name": "texts"},
      "transform": [{"filter": "datum.g == 'side'"}],
      "mark": {"type": "text", "font": "Liberation Serif", "fontSize": 20.5, "color": "black", "align": "center", "baseline": "middle"},
      "encoding": {
        "x": {"field": "R", "type": "quantitative", "scale": {"type": "log", "domain": [600, 100000000], "nice": false}},
        "y": {"field": "f", "type": "quantitative", "scale": {"type": "log", "domain": [0.008, 0.1], "nice": false}},
        "text": {"field": "t"}
      }
    },
    {
      "data": {"name": "texts"},
      "transform": [{"filter": "datum.g == 'rside'"}],
      "mark": {"type": "text", "font": "Liberation Serif", "fontSize": 18, "color": "black", "align": "center", "baseline": "middle"},
      "encoding": {
        "x": {"field": "R", "type": "quantitative", "scale": {"type": "log", "domain": [600, 100000000], "nice": false}},
        "y": {"field": "f", "type": "quantitative", "scale": {"type": "log", "domain": [0.008, 0.1], "nice": false}},
        "text": {"field": "t"}
      }
    },
    {
      "data": {"name": "texts"},
      "transform": [{"filter": "datum.g == 'right'"}],
      "mark": {"type": "text", "font": "Liberation Serif", "fontSize": 16, "color": "black", "align": "center", "baseline": "middle"},
      "encoding": {
        "x": {"field": "R", "type": "quantitative", "scale": {"type": "log", "domain": [600, 100000000], "nice": false}},
        "y": {"field": "f", "type": "quantitative", "scale": {"type": "log", "domain": [0.008, 0.1], "nice": false}},
        "text": {"field": "t"}
      }
    },
    {
      "data": {"name": "xtitle"},
      "transform": [{"filter": "datum.p == 'a'"}],
      "mark": {"type": "text", "font": "Liberation Serif", "fontSize": 18, "color": "black", "align": "right", "baseline": "middle"},
      "encoding": {
        "x": {"field": "R", "type": "quantitative", "scale": {"type": "log", "domain": [600, 100000000], "nice": false}},
        "y": {"field": "f", "type": "quantitative", "scale": {"type": "log", "domain": [0.008, 0.1], "nice": false}},
        "text": {"field": "t"}
      }
    },
    {
      "data": {"name": "xtitle"},
      "transform": [{"filter": "datum.p == 'b'"}],
      "mark": {"type": "text", "font": "Liberation Serif", "fontSize": 18, "fontWeight": "bold", "color": "black", "align": "left", "baseline": "middle"},
      "encoding": {
        "x": {"field": "R", "type": "quantitative", "scale": {"type": "log", "domain": [600, 100000000], "nice": false}},
        "y": {"field": "f", "type": "quantitative", "scale": {"type": "log", "domain": [0.008, 0.1], "nice": false}},
        "text": {"field": "t"}
      }
    },
    {
      "data": {"name": "xtitle"},
      "transform": [{"filter": "datum.p == 'c'"}],
      "mark": {"type": "text", "font": "Liberation Serif", "fontSize": 18, "color": "black", "align": "left", "baseline": "middle"},
      "encoding": {
        "x": {"field": "R", "type": "quantitative", "scale": {"type": "log", "domain": [600, 100000000], "nice": false}},
        "y": {"field": "f", "type": "quantitative", "scale": {"type": "log", "domain": [0.008, 0.1], "nice": false}},
        "text": {"field": "t"}
      }
    }
  ]
}
